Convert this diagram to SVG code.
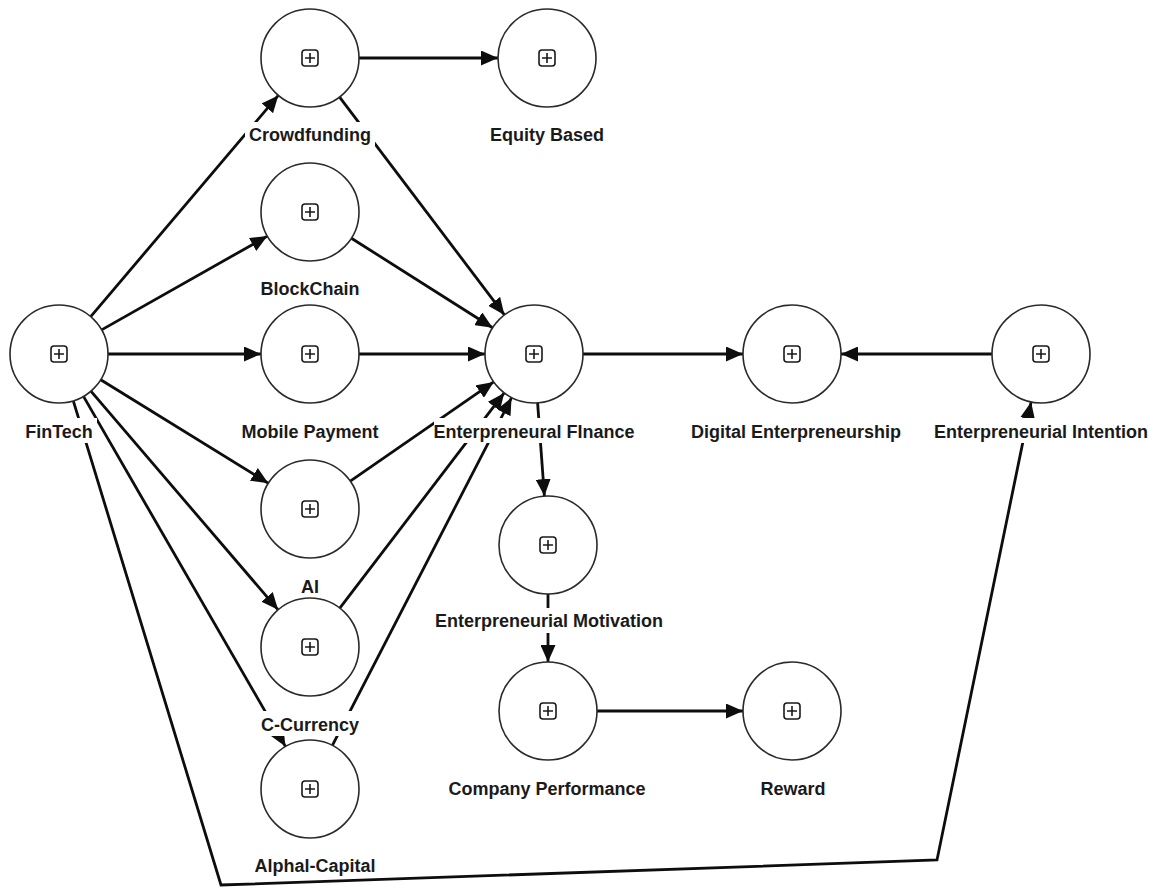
<svg xmlns="http://www.w3.org/2000/svg" width="1156" height="890" viewBox="0 0 1156 890">
<defs>
<style>
.edge{fill:none;stroke:#0d0d0d;stroke-width:2.8;marker-end:url(#arr)}
.node circle{fill:#fff;stroke:#2a2a2a;stroke-width:1.6}
.icon rect{fill:none;stroke:#1a1a1a;stroke-width:1.6}
.icon path{fill:none;stroke:#1a1a1a;stroke-width:1.6}
.lbg{fill:#fff}
.lbl{font-family:"Liberation Sans",Arial,sans-serif;font-weight:bold;font-size:18px;fill:#1a1a1a;text-anchor:middle}
</style>
<marker id="arr" markerUnits="userSpaceOnUse" markerWidth="17" markerHeight="15" refX="17" refY="7.5" orient="auto">
<path d="M0,0 L17,7.5 L0,15 z" fill="#0d0d0d"/>
</marker>
<g id="plus" class="icon"><rect x="-8" y="-8" width="16" height="16" rx="3"/><path d="M-5,0 H5 M0,-5 V5"/></g>
</defs>
<rect width="1156" height="890" fill="#fff"/>
<g id="connectors">
<line class="edge" x1="90.7" y1="316.6" x2="278.3" y2="95.4"/>
<line class="edge" x1="101.6" y1="329.9" x2="267.4" y2="236.1"/>
<line class="edge" x1="108" y1="354" x2="261" y2="354"/>
<line class="edge" x1="100.7" y1="379.7" x2="268.3" y2="483.3"/>
<line class="edge" x1="90.9" y1="391.2" x2="278.1" y2="609.8"/>
<line class="edge" x1="83.5" y1="396.4" x2="285.5" y2="746.6"/>
<polyline class="edge" points="73.3,400.9 221,885 937,860 1031.1,402"/>
<line class="edge" x1="359" y1="58" x2="498" y2="58"/>
<line class="edge" x1="339.6" y1="97.1" x2="504.4" y2="314.9"/>
<line class="edge" x1="351.4" y1="238.2" x2="492.6" y2="327.8"/>
<line class="edge" x1="359" y1="354" x2="485" y2="354"/>
<line class="edge" x1="350.3" y1="481.1" x2="493.7" y2="381.9"/>
<line class="edge" x1="339.8" y1="608.1" x2="504.2" y2="392.9"/>
<line class="edge" x1="332.4" y1="745.4" x2="511.6" y2="397.6"/>
<line class="edge" x1="583" y1="354" x2="743" y2="354"/>
<line class="edge" x1="992" y1="354" x2="841" y2="354"/>
<line class="edge" x1="537.6" y1="402.9" x2="544.4" y2="496.1"/>
<line class="edge" x1="548" y1="594" x2="548" y2="662"/>
<line class="edge" x1="597" y1="711" x2="743" y2="711"/>
</g>
<g id="fintech" class="node"><circle cx="59" cy="354" r="49"/><use href="#plus" x="59" y="354"/><rect class="lbg" x="22" y="418" width="75" height="25"/><text class="lbl" x="59" y="438">FinTech</text></g>
<g id="crowdfunding" class="node"><circle cx="310" cy="58" r="49"/><use href="#plus" x="310" y="58"/><rect class="lbg" x="245" y="122" width="130" height="25"/><text class="lbl" x="310" y="141">Crowdfunding</text></g>
<g id="equity-based" class="node"><circle cx="547" cy="58" r="49"/><use href="#plus" x="547" y="58"/><rect class="lbg" x="487" y="122" width="120" height="25"/><text class="lbl" x="547" y="141">Equity Based</text></g>
<g id="blockchain" class="node"><circle cx="310" cy="212" r="49"/><use href="#plus" x="310" y="212"/><rect class="lbg" x="258" y="276" width="105" height="25"/><text class="lbl" x="310" y="295">BlockChain</text></g>
<g id="mobile-payment" class="node"><circle cx="310" cy="354" r="49"/><use href="#plus" x="310" y="354"/><rect class="lbg" x="239" y="418" width="143" height="25"/><text class="lbl" x="310" y="438">Mobile Payment</text></g>
<g id="ai" class="node"><circle cx="310" cy="509" r="49"/><use href="#plus" x="310" y="509"/><rect class="lbg" x="298" y="573" width="24" height="25"/><text class="lbl" x="310" y="593">AI</text></g>
<g id="c-currency" class="node"><circle cx="310" cy="647" r="49"/><use href="#plus" x="310" y="647"/><rect class="lbg" x="258" y="711" width="104" height="25"/><text class="lbl" x="310" y="731">C-Currency</text></g>
<g id="alphal-capital" class="node"><circle cx="310" cy="789" r="49"/><use href="#plus" x="310" y="789"/><rect class="lbg" x="252" y="853" width="127" height="25"/><text class="lbl" x="315" y="872">Alphal-Capital</text></g>
<g id="enterpreneural-finance" class="node"><circle cx="534" cy="354" r="49"/><use href="#plus" x="534" y="354"/><rect class="lbg" x="434" y="418" width="199" height="25"/><text class="lbl" x="534" y="438">Enterpreneural FInance</text></g>
<g id="digital-enterpreneurship" class="node"><circle cx="792" cy="354" r="49"/><use href="#plus" x="792" y="354"/><rect class="lbg" x="689" y="418" width="216" height="25"/><text class="lbl" x="796" y="438">Digital Enterpreneurship</text></g>
<g id="enterpreneurial-intention" class="node"><circle cx="1041" cy="354" r="49"/><use href="#plus" x="1041" y="354"/><rect class="lbg" x="931" y="418" width="220" height="25"/><text class="lbl" x="1041" y="438">Enterpreneurial Intention</text></g>
<g id="enterpreneurial-motivation" class="node"><circle cx="548" cy="545" r="49"/><use href="#plus" x="548" y="545"/><rect class="lbg" x="432" y="608" width="234" height="25"/><text class="lbl" x="549" y="627">Enterpreneurial Motivation</text></g>
<g id="company-performance" class="node"><circle cx="548" cy="711" r="49"/><use href="#plus" x="548" y="711"/><rect class="lbg" x="446" y="775" width="203" height="25"/><text class="lbl" x="547" y="795">Company Performance</text></g>
<g id="reward" class="node"><circle cx="792" cy="711" r="49"/><use href="#plus" x="792" y="711"/><rect class="lbg" x="758" y="775" width="71" height="25"/><text class="lbl" x="793" y="795">Reward</text></g>
</svg>
